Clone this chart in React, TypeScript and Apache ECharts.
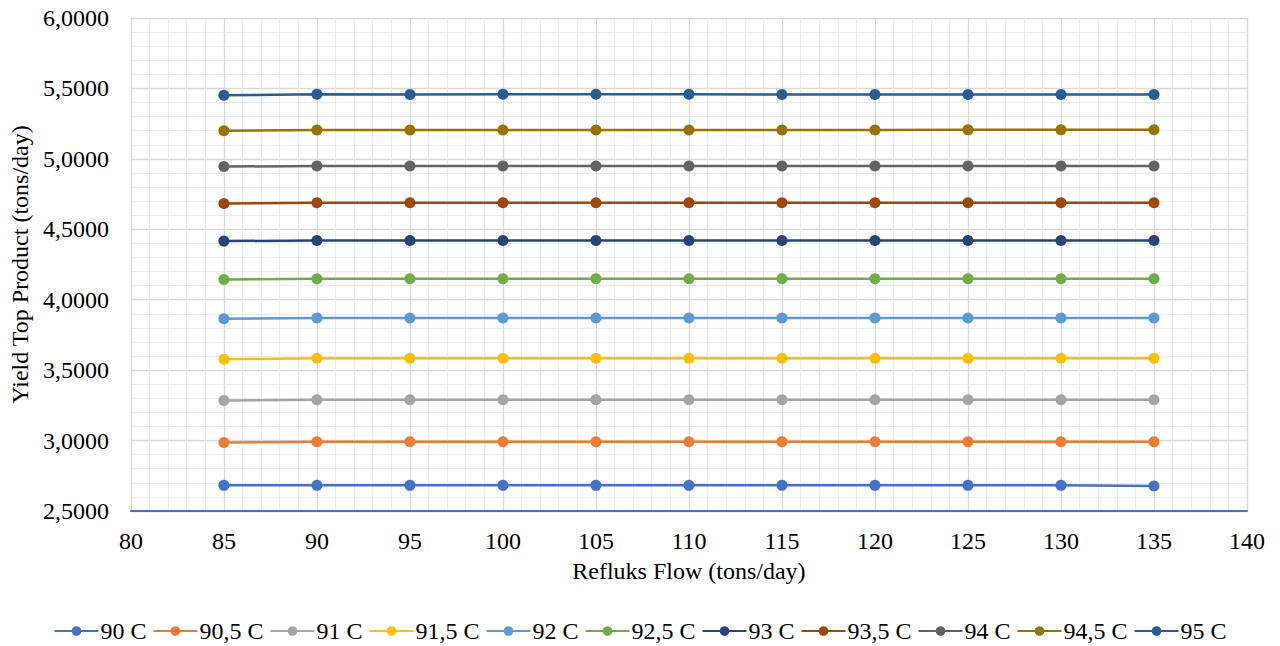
import React, { useEffect, useRef } from "react";
import * as echarts from "echarts";

const refluxFlow = [85, 90, 95, 100, 105, 110, 115, 120, 125, 130, 135];
const seriesNames = ["90 C", "90,5 C", "91 C", "91,5 C", "92 C", "92,5 C", "93 C", "93,5 C", "94 C", "94,5 C", "95 C"];
const colors = ["#4472C4", "#ED7D31", "#A5A5A5", "#FFC000", "#5B9BD5", "#70AD47", "#264478", "#9E480E", "#636363", "#997300", "#255E91"];

const y90 = [2.682, 2.682, 2.682, 2.682, 2.682, 2.682, 2.682, 2.682, 2.682, 2.682, 2.677];
const y905 = [2.986, 2.991, 2.991, 2.991, 2.991, 2.991, 2.991, 2.991, 2.991, 2.991, 2.991];
const y91 = [3.285, 3.290, 3.290, 3.290, 3.290, 3.290, 3.290, 3.290, 3.290, 3.290, 3.290];
const y915 = [3.578, 3.584, 3.584, 3.584, 3.584, 3.584, 3.584, 3.584, 3.584, 3.584, 3.584];
const y92 = [3.865, 3.870, 3.870, 3.870, 3.870, 3.870, 3.870, 3.870, 3.870, 3.870, 3.870];
const y925 = [4.144, 4.149, 4.149, 4.149, 4.149, 4.149, 4.149, 4.149, 4.149, 4.149, 4.149];
const y93 = [4.416, 4.421, 4.421, 4.421, 4.421, 4.421, 4.421, 4.421, 4.421, 4.421, 4.421];
const y935 = [4.683, 4.688, 4.688, 4.688, 4.688, 4.688, 4.688, 4.688, 4.688, 4.688, 4.688];
const y94 = [4.945, 4.950, 4.950, 4.950, 4.950, 4.950, 4.950, 4.950, 4.950, 4.950, 4.950];
const y945 = [5.200, 5.205, 5.205, 5.205, 5.205, 5.205, 5.205, 5.205, 5.206, 5.206, 5.207];
const y95 = [5.452, 5.458, 5.457, 5.458, 5.458, 5.458, 5.457, 5.457, 5.457, 5.457, 5.457];

const allSeries = [y90, y905, y91, y915, y92, y925, y93, y935, y94, y945, y95];

const FONT = "Liberation Serif, serif";
const FS = 24;

export default function App() {
  const ref = useRef<HTMLDivElement>(null);
  useEffect(() => {
    if (!ref.current) return;
    const chart = echarts.init(ref.current, undefined, { renderer: "svg" });
    chart.setOption({
      animation: false,
      backgroundColor: "#ffffff",
      textStyle: { fontFamily: FONT },
      grid: { left: 129, right: 33, top: 18, bottom: 135, containLabel: false },
      legend: {
        top: 614,
        left: "center",
        itemWidth: 44,
        itemHeight: 12,
        itemGap: 6,
        data: seriesNames,
        textStyle: { fontFamily: FONT, fontSize: FS, color: "#000", padding: [0, 0, 0, -3] },
      },
      xAxis: {
        type: "value",
        min: 80,
        max: 140,
        interval: 5,
        name: "Refluks Flow (tons/day)",
        nameLocation: "middle",
        nameGap: 48,
        nameTextStyle: { fontFamily: FONT, fontSize: FS, color: "#000" },
        axisLine: { show: true, lineStyle: { color: "#4472C4", width: 2 } },
        axisTick: { show: false },
        axisLabel: { fontFamily: FONT, fontSize: FS, color: "#000", margin: 18 },
        splitLine: { show: true, lineStyle: { color: "#d9d9d9", width: 1.3 } },
        minorTick: { show: false, splitNumber: 5 },
        minorSplitLine: { show: true, lineStyle: { color: "#ebebeb", width: 1 } },
      },
      yAxis: {
        type: "value",
        min: 2.5,
        max: 6,
        interval: 0.5,
        name: "Yield Top Product (tons/day)",
        nameLocation: "middle",
        nameGap: 97,
        nameTextStyle: { fontFamily: FONT, fontSize: FS, color: "#000" },
        axisLine: { show: false },
        axisTick: { show: false },
        axisLabel: {
          fontFamily: FONT,
          fontSize: FS,
          color: "#000",
          margin: 22,
          formatter: (v: number) => v.toFixed(4).replace(".", ","),
        },
        splitLine: { show: true, lineStyle: { color: "#d9d9d9", width: 1.3 } },
        minorTick: { show: false, splitNumber: 5 },
        minorSplitLine: { show: true, lineStyle: { color: "#ebebeb", width: 1 } },
      },
      series: allSeries.map((vals, i) => ({
        name: seriesNames[i],
        type: "line",
        data: refluxFlow.map((x, j) => [x, vals[j]]),
        symbol: "circle",
        symbolSize: 11,
        color: colors[i],
        lineStyle: { color: colors[i], width: 2.5 },
        itemStyle: { color: colors[i] },
      })),
    });
    return () => chart.dispose();
  }, []);
  return <div ref={ref} style={{ position: "fixed", left: 0, top: 0, width: 1280, height: 646 }} />;
}
